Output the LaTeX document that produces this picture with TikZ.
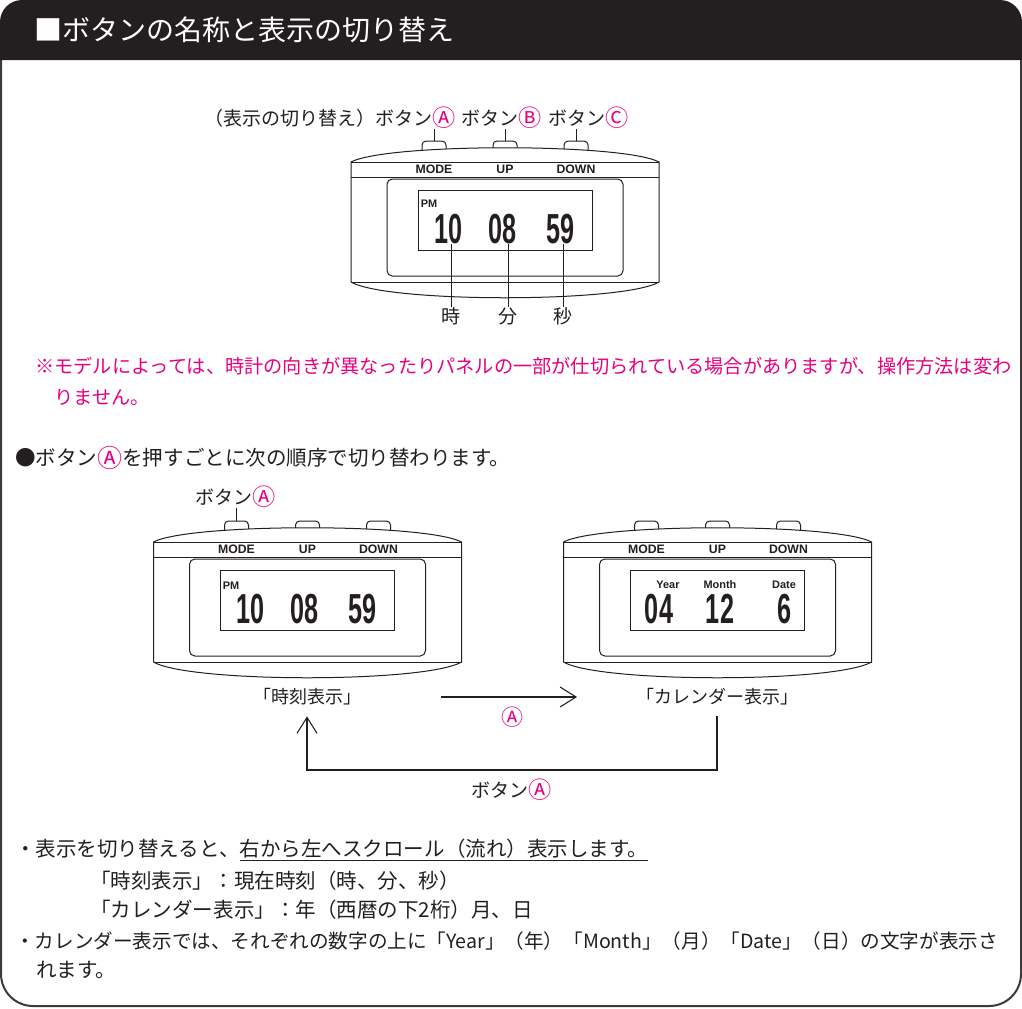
\documentclass[tikz,border=0pt]{standalone}
\usepackage{fontspec}
\setmainfont{Noto Sans CJK JP}
\newfontfamily\keyfont{Liberation Sans}
\newfontfamily\segfont[FakeStretch=0.6]{Liberation Sans}
\usetikzlibrary{arrows.meta}

\definecolor{ink}{RGB}{35,31,32}
\definecolor{rim}{RGB}{60,58,58}
\definecolor{keypink}{RGB}{230,0,126}
\newcommand\keymark[1]{\textcolor{keypink}{\raisebox{-0.08em}{\scalebox{1.22}{#1}}}}

\tikzset{
  caseline/.style={draw=ink, line width=0.75pt},
  shell/.style={caseline, fill=white},
  keycap/.style={caseline, fill=white, rounded corners=3pt},
  keylabel/.style={inner sep=0pt, text=ink, font=\keyfont\bfseries\fontsize{9.2}{10}\selectfont},
  lcdtag/.style={inner sep=0pt, text=ink, font=\keyfont\bfseries\fontsize{8.2}{9}\selectfont},
  segdigits/.style={inner sep=0pt, anchor=base, text=ink, font=\segfont\bfseries\fontsize{31.5}{32}\selectfont},
  jp/.style={inner sep=0pt, text=ink, font=\fontsize{14.25}{16}\selectfont},
  note/.style={jp, anchor=west, font=\fontsize{15.4}{17}\selectfont},
  lead/.style={draw=ink, line width=0.75pt},
  flow/.style={draw=ink, line width=0.8pt, -{Straight Barb[length=12pt,width=15pt]}},
  % clock body, origin at the middle of the top edge, y pointing down
  pics/clock/.style={code={
    \begin{scope}[yscale=-1]
    \foreach \bx/\bn in {-71/A,0/B,71/C}{
      \draw[keycap] (\bx-12,-6) -- (\bx-12,-22) -- (\bx+12,-22) -- (\bx+12,-6);
      \coordinate (-btn\bn) at (\bx,-22);
    }
    \draw[shell] (-154,-1) .. controls (-118,-20) and (118,-20) .. (154,-1)
      -- (154,119) .. controls (118,140) and (-118,140) .. (-154,119) -- cycle;
    \draw[caseline] (-154,-1) -- (154,-1);
    \draw[caseline] (-154,14) -- (154,14);
    \draw[caseline] (-154,119) -- (154,119);
    \draw[caseline, rounded corners=4pt] (-118,16) rectangle (118,113);
    \draw[caseline] (-87,27) rectangle (87,87);
    \node[keylabel] (-mode) at (-71,6.5) {MODE};
    \node[keylabel] (-up) at (0,6.5) {UP};
    \node[keylabel] (-down) at (71,6.5) {DOWN};
    \end{scope}
  }}
}

\begin{document}
\begin{tikzpicture}[x=0.75pt,y=0.75pt,yscale=-1]
\useasboundingbox (0,0) rectangle (1022,1008);

% frame and title bar
\draw[rim, line width=1.5pt] (1,60) -- (1,974) arc[start angle=180,end angle=90,radius=32]
  -- (989,1006) arc[start angle=90,end angle=0,radius=32] -- (1021,60);
\fill[ink] (0,60) -- (0,22) arc[start angle=180,end angle=270,radius=22]
  -- (1000,0) arc[start angle=270,end angle=360,radius=22] -- (1022,60) -- cycle;
\node[anchor=west, inner sep=0pt, text=white, font=\fontsize{21}{24}\selectfont] (title) at (34,30) {■ボタンの名称と表示の切り替え};

% main clock
\begin{scope}[shift={(505,163)}]
  \pic (big) at (0,0) {clock};
  \node[lcdtag] (bigpm) at (-76,41) {PM};
  \node[segdigits] (bighh) at (-56.5,80) {10};
  \node[segdigits] (bigmm) at (-2.5,80) {08};
  \node[segdigits] (bigss) at (55.5,80) {59};
\end{scope}

\node[jp, anchor=east] (modekey) at (456,118) {（表示の切り替え）ボタン\keymark{Ⓐ}};
\node[jp] (upkey) at (502,118) {ボタン\keymark{Ⓑ}};
\node[jp] (downkey) at (589,118) {ボタン\keymark{Ⓒ}};
\draw[lead] (big-btnA) -- (big-btnA |- modekey.south);
\draw[lead] (big-btnB) -- (big-btnB |- upkey.south);
\draw[lead] (big-btnC) -- (big-btnC |- downkey.south);

\node[jp] (hourtag) at (451,316) {時};
\node[jp] (mintag) at (508,316) {分};
\node[jp] (sectag) at (563,316) {秒};
\draw[lead] (bighh.south -| hourtag) -- (hourtag.north);
\draw[lead] (bigmm.south -| mintag) -- (mintag.north);
\draw[lead] (bigss.south -| sectag) -- (sectag.north);

% remark
\node[jp, anchor=west, text=keypink, font=\fontsize{14.4}{16}\selectfont] (remark1) at (35,366) {※モデルによっては、時計の向きが異なったりパネルの一部が仕切られている場合がありますが、操作方法は変わ};
\node[jp, anchor=west, text=keypink, font=\fontsize{14.4}{16}\selectfont] (remark2) at (54,397) {りません。};

\node[note] (howto) at (15,458) {●ボタン\keymark{Ⓐ}を押すごとに次の順序で切り替わります。};

% time view
\begin{scope}[shift={(307.5,543)}]
  \pic (day) at (0,0) {clock};
  \node[lcdtag] (daypm) at (-76.5,42.5) {PM};
  \node[segdigits] (dayhh) at (-56.5,80) {10};
  \node[segdigits] (daymm) at (-2.5,80) {08};
  \node[segdigits] (dayss) at (55.5,80) {59};
\end{scope}
\node[jp] (daykey) at (236,497) {ボタン\keymark{Ⓐ}};
\draw[lead] (day-btnA) -- (day-btnA |- daykey.south);

% calendar view
\begin{scope}[shift={(717.5,543)}]
  \pic (cal) at (0,0) {clock};
  \node[lcdtag] (calyy) at (-49.5,42) {Year};
  \node[lcdtag] (calmo) at (2.5,42) {Month};
  \node[lcdtag] (calda) at (66.5,42) {Date};
  \node[segdigits] (calyear) at (-58.5,80) {04};
  \node[segdigits] (calmonth) at (2.5,80) {12};
  \node[segdigits] (calday) at (67.5,80) {6};
\end{scope}

% switching order
\node[jp, font=\fontsize{13.5}{15}\selectfont] (timeview) at (307,697) {「時刻表示」};
\node[jp, font=\fontsize{13.5}{15}\selectfont] (calview) at (717,697) {「カレンダー表示」};
\draw[flow, shorten <=60pt, shorten >=44pt] (timeview) -- (calview);
\node[jp, font=\fontsize{13.5}{15}\selectfont] (fwdkey) at (512,717) {\keymark{Ⓐ}};
\coordinate (loopbot) at (512,770);
\draw[flow, shorten <=8pt, shorten >=8pt] (calview.south) |- (loopbot) -| (timeview.south);
\node[jp] (loopkey) at (512,790) {ボタン\keymark{Ⓐ}};

% notes
\node[note] (tip1) at (15,850) {・表示を切り替えると、\underline{右から左へスクロール（流れ）表示します。}};
\node[note] (tip2) at (90,881) {「時刻表示」：現在時刻（時、分、秒）};
\node[note] (tip3) at (90,910) {「カレンダー表示」：年（西暦の下2桁）月、日};
\node[note, font=\fontsize{14.7}{17}\selectfont] (tip4) at (15,941) {・カレンダー表示では、それぞれの数字の上に「Year」（年）「Month」（月）「Date」（日）の文字が表示さ};
\node[note] (tip5) at (36,970) {れます。};
\end{tikzpicture}
\end{document}
